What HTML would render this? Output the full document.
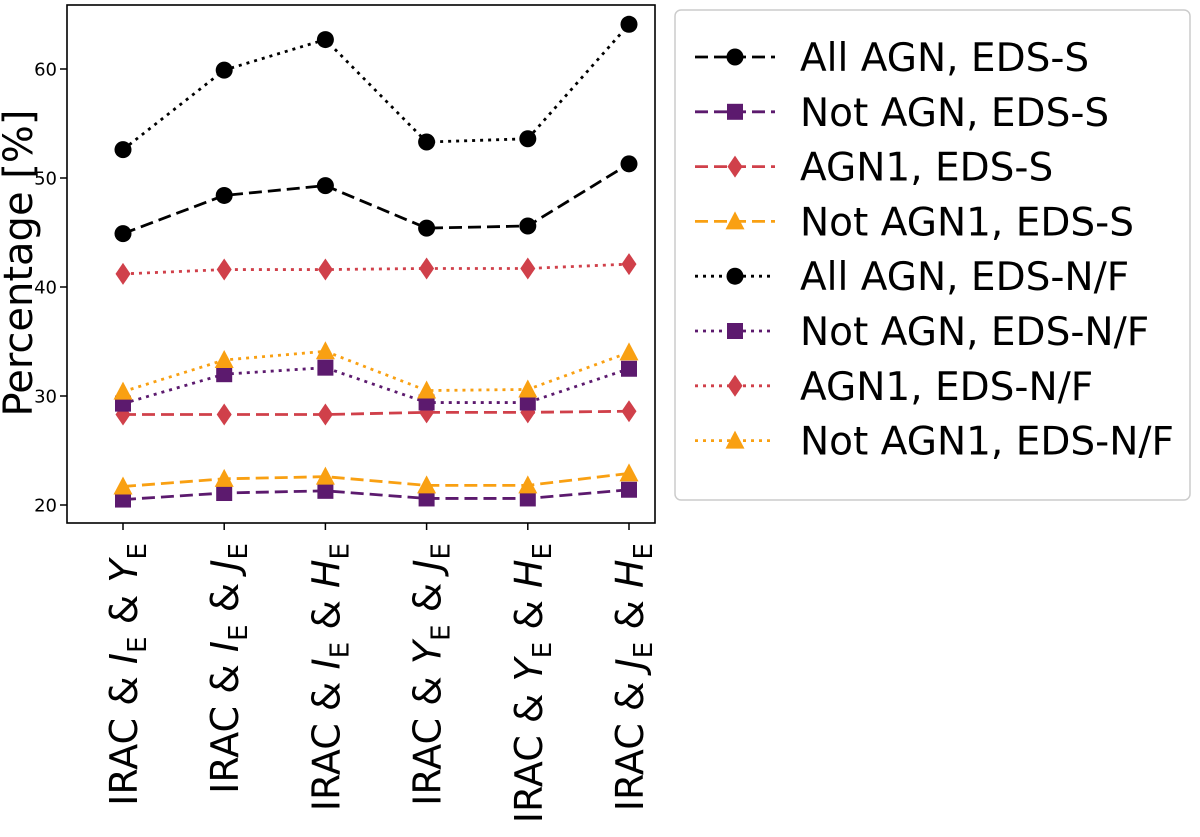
<!DOCTYPE html>
<html><head><meta charset="utf-8"><style>
body{margin:0;background:#fff}
svg{display:block;font-family:"DejaVu Sans","Liberation Sans",sans-serif}
</style></head><body>
<svg id="chart" width="1200" height="837" viewBox="0 0 1200 837">
<rect x="67" y="5" width="588" height="518" fill="none" stroke="#000" stroke-width="1.6"/>
<g id="yticks"></g><g id="xticks"></g><g id="series"></g>
<text transform="translate(32,263) rotate(-90)" text-anchor="middle" font-size="40">Percentage [%]</text>
<rect x="675" y="10" width="515" height="490" rx="6" fill="#fff" stroke="#ccc" stroke-width="1.5"/>
<g id="legend"></g>
</svg>
<script>
const categories=["I","I","I","Y","Y","J"];
const bands=["Y","J","H","J","H","H"];
const yTicks=[20,30,40,50,60];
const seriesNames=["All AGN, EDS-S","Not AGN, EDS-S","AGN1, EDS-S","Not AGN1, EDS-S","All AGN, EDS-N/F","Not AGN, EDS-N/F","AGN1, EDS-N/F","Not AGN1, EDS-N/F"];
const allAgnS=[44.9,48.4,49.3,45.4,45.6,51.3];
const notAgnS=[20.5,21.1,21.3,20.6,20.6,21.4];
const agn1S=[28.3,28.3,28.3,28.5,28.5,28.6];
const notAgn1S=[21.7,22.4,22.6,21.8,21.8,22.9];
const allAgnN=[52.6,59.9,62.7,53.3,53.6,64.1];
const notAgnN=[29.3,32.0,32.6,29.4,29.4,32.5];
const agn1N=[41.2,41.6,41.6,41.7,41.7,42.1];
const notAgn1N=[30.4,33.3,34.1,30.5,30.6,34.0];
const seriesValues=[allAgnS,notAgnS,agn1S,notAgn1S,allAgnN,notAgnN,agn1N,notAgn1N];
const colors=["#000","#5c1a6e","#d0404a","#f9a012"];
const markers=["circle","square","diamond","triangle"];
const NS="http://www.w3.org/2000/svg";
const x=i=>123+i*101.2;
const y=v=>505-(v-20)*10.9;
function mk(tag,a,p){const e=document.createElementNS(NS,tag);for(const k in a)e.setAttribute(k,a[k]);p.appendChild(e);return e;}
const yt=document.getElementById('yticks');
yTicks.forEach(t=>{
 const l=mk('line',{x1:60,x2:67,y1:y(t),y2:y(t),stroke:'#000','stroke-width':1.5},yt);
 
 
 const tx=mk('text',{x:57,y:y(t)+6.5,'text-anchor':'end','font-size':18},yt);tx.textContent=t;
 
 
});
const xt=document.getElementById('xticks');
categories.forEach((c,i)=>{
 const l=mk('line',{x1:x(i),x2:x(i),y1:523,y2:530,stroke:'#000','stroke-width':1.5},xt);
 
 
 const t=mk('text',{transform:`translate(${x(i)+14},543) rotate(-90)`,'text-anchor':'end','font-size':38},xt);
 
 
 t.innerHTML=`IRAC &amp; <tspan font-style="italic">${c}</tspan><tspan font-size="26" dy="9">E</tspan><tspan dy="-9"> &amp; </tspan><tspan font-style="italic">${bands[i]}</tspan><tspan font-size="26" dy="9">E</tspan>`;
});
function marker(kind,cx,cy,col,p){
 let e;
 if(kind==='circle')e=mk('circle',{cx,cy,r:8.5,fill:col},p);
 else if(kind==='square')e=mk('rect',{x:cx-8,y:cy-8,width:16,height:16,fill:col},p);
 else if(kind==='diamond')e=mk('polygon',{points:`${cx},${cy-11} ${cx+7.5},${cy} ${cx},${cy+11} ${cx-7.5},${cy}`,fill:col},p);
 else e=mk('polygon',{points:`${cx},${cy-10} ${cx+9.5},${cy+8} ${cx-9.5},${cy+8}`,fill:col},p);
 return e;
}
const sg=document.getElementById('series'),lg=document.getElementById('legend');
seriesValues.forEach((vals,s)=>{
 const col=colors[s%4],dash=s<4?'13,6':'3,5';
 const g=mk('g',{},sg);
 
 
 const pl=mk('polyline',{points:vals.map((v,i)=>x(i)+','+y(v)).join(' '),fill:'none',stroke:col,'stroke-width':2.8,'stroke-dasharray':dash},g);
 
 
 vals.forEach((v,i)=>{const m=marker(markers[s%4],x(i),y(v),col,g);
  
  });
 const ly=57+s*54.8;
 const le=mk('g',{},lg);
 
 
 mk('line',{x1:695,x2:775,y1:ly,y2:ly,stroke:col,'stroke-width':2.8,'stroke-dasharray':dash},le);
 marker(markers[s%4],735,ly,col,le);
 const t=mk('text',{x:800,y:ly+14,'font-size':39},le);t.textContent=seriesNames[s];
});
</script>
</body></html>
